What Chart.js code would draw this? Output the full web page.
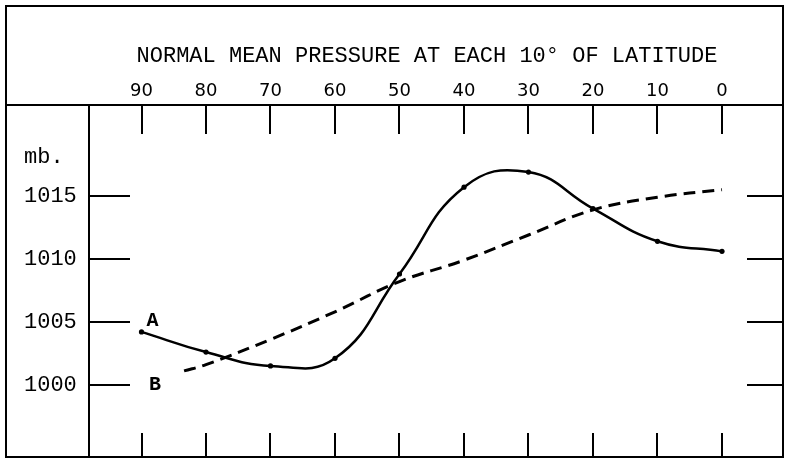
<!DOCTYPE html>
<html><head><meta charset="utf-8">
<script src="https://cdn.jsdelivr.net/npm/chart.js@4.4.1/dist/chart.umd.min.js"></script>
<style>html,body{margin:0;padding:0;background:#fff;}#wrap{width:786px;height:459px;}</style>
</head><body><div id="wrap"><canvas id="c" width="786" height="459"></canvas></div>
<script>
const titleText = 'NORMAL MEAN PRESSURE AT EACH 10\u00B0 OF LATITUDE';
const latitudes = [90, 80, 70, 60, 50, 40, 30, 20, 10, 0];
const pressureA = [1004.2, 1002.6, 1001.5, 1002.1, 1008.8, 1015.7, 1016.9, 1014.0, 1011.4, 1010.6];
const latitudesB = [83.4, 80, 70, 60, 50, 40, 30, 20, 10, 0];
const pressureB = [1001.1, 1001.6, 1003.6, 1005.8, 1008.2, 1009.9, 1011.9, 1013.9, 1014.9, 1015.5];
const yTickValues = [1000, 1005, 1010, 1015];
const unitLabel = 'mb.';
const seriesNames = ['A', 'B'];

const INK = '#000';
const MONO = 'Liberation Mono';

const framePlugin = {
  id: 'frame',
  afterDraw(chart) {
    const ctx = chart.ctx;
    const a = chart.chartArea;
    const xs = chart.scales.x, ys = chart.scales.y;
    const L = 6, R = 783, T = 6, B = 457;
    ctx.save();
    ctx.strokeStyle = INK;
    ctx.lineWidth = 2;
    ctx.lineCap = 'butt';
    ctx.beginPath();
    ctx.rect(L, T, R - L, B - T);
    ctx.moveTo(L, a.top); ctx.lineTo(R, a.top);
    ctx.moveTo(a.left, a.top); ctx.lineTo(a.left, B);
    latitudes.forEach(v => {
      const px = Math.round(xs.getPixelForValue(v));
      ctx.moveTo(px, a.top); ctx.lineTo(px, a.top + 29);
      ctx.moveTo(px, B - 24); ctx.lineTo(px, B);
    });
    yTickValues.forEach(v => {
      const py = Math.round(ys.getPixelForValue(v));
      ctx.moveTo(a.left, py); ctx.lineTo(a.left + 41, py);
      ctx.moveTo(R - 36, py); ctx.lineTo(R, py);
    });
    ctx.stroke();
    ctx.fillStyle = INK;
    ctx.font = '22px "' + MONO + '"';
    ctx.textBaseline = 'middle';
    ctx.textAlign = 'left';
    ctx.fillText(unitLabel, 24, ys.getPixelForValue(1018.1));
    ctx.font = 'bold 20px "' + MONO + '"';
    ctx.textAlign = 'center';
    ctx.fillText(seriesNames[0], xs.getPixelForValue(88.3), ys.getPixelForValue(1005.1));
    ctx.fillText(seriesNames[1], xs.getPixelForValue(87.9), ys.getPixelForValue(1000));
    ctx.restore();
  }
};

new Chart(document.getElementById('c'), {
  type: 'line',
  data: {
    datasets: [
      {
        label: seriesNames[0],
        data: latitudes.map((x, i) => ({ x, y: pressureA[i] })),
        borderColor: INK,
        borderWidth: 2.5,
        tension: 0.45,
        pointRadius: 2.6,
        pointBackgroundColor: INK,
        pointBorderWidth: 0,
        fill: false
      },
      {
        label: seriesNames[1],
        data: latitudesB.map((x, i) => ({ x, y: pressureB[i] })),
        borderColor: INK,
        borderWidth: 3,
        borderDash: [12, 7],
        tension: 0.4,
        pointRadius: 0,
        fill: false
      }
    ]
  },
  options: {
    responsive: false,
    animation: false,
    devicePixelRatio: 1,
    layout: { padding: { left: 24, right: 21, top: 6, bottom: 2 } },
    plugins: {
      legend: { display: false },
      tooltip: { enabled: false },
      title: {
        display: true,
        text: titleText,
        fullSize: false,
        color: INK,
        font: { family: MONO, size: 22, weight: 'normal' },
        padding: { top: 37, bottom: 0 }
      }
    },
    scales: {
      x: {
        type: 'linear',
        position: 'top',
        reverse: true,
        min: -6.67,
        max: 98.14,
        afterBuildTicks: s => { s.ticks = latitudes.map(v => ({ value: v })); },
        afterFit: s => { s.height = 35.6; },
        ticks: {
          color: INK,
          font: { family: 'DejaVu Sans', size: 18 },
          padding: 3,
          maxRotation: 0,
          autoSkip: false,
          callback: v => String(v)
        },
        grid: { display: false, drawTicks: false },
        border: { display: false }
      },
      y: {
        type: 'linear',
        position: 'left',
        min: 995.15,
        max: 1022.23,
        afterBuildTicks: s => { s.ticks = yTickValues.map(v => ({ value: v })); },
        afterFit: s => { s.width = 65; },
        ticks: {
          color: INK,
          font: { family: MONO, size: 22 },
          padding: 0,
          crossAlign: 'far',
          callback: v => String(v)
        },
        grid: { display: false, drawTicks: false },
        border: { display: false }
      }
    }
  },
  plugins: [framePlugin]
});
</script>
</body></html>
